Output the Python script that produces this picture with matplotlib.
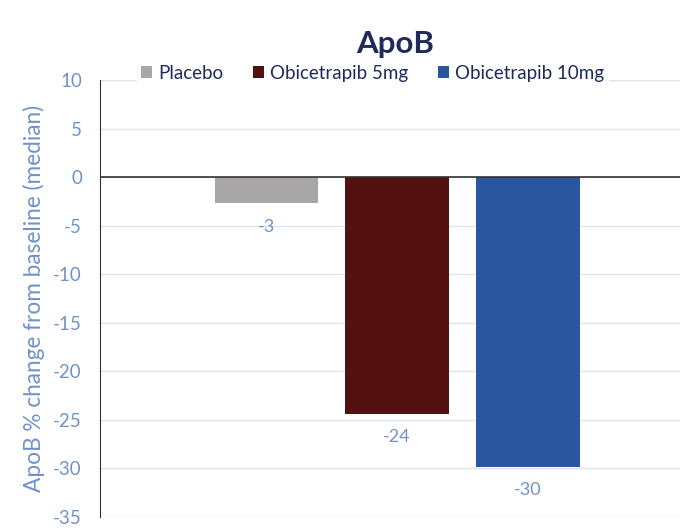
import matplotlib.pyplot as plt

plt.rcParams['font.family'] = ['Lato', 'DejaVu Sans']
plt.rcParams['axes.unicode_minus'] = False

groups = ["Placebo", "Obicetrapib 5mg", "Obicetrapib 10mg"]
values = [-2.7, -24.4, -29.8]
labels = ["-3", "-24", "-30"]
colors = ["#a9a6a7", "#541112", "#2a56a0"]
yticks = [10, 5, 0, -5, -10, -15, -20, -25, -30, -35]

blue_txt = "#6f93c9"

fig = plt.figure(figsize=(6.87, 5.30), dpi=100)
ax = fig.add_axes([0.1456, 0.0245, 0.844, 0.8245])

x = list(range(len(groups)))
bars = ax.bar(x, values, width=0.79, color=colors, label=groups, zorder=3)

for xi, v, lab in zip(x, values, labels):
    ax.annotate(lab, (xi, v), xytext=(0, -11), textcoords="offset points",
                ha="center", va="top", color=blue_txt, fontsize=13)

ax.set_xlim(-1.27, 3.16)
ax.set_ylim(-35, 10)
ax.set_yticks(yticks)
ax.set_xticks([])
ax.grid(axis="y", color="#dde4ef", linewidth=1, zorder=0)
ax.axhline(0, color="#333333", linewidth=1.2, zorder=4)
for s in ["top", "right", "bottom"]:
    ax.spines[s].set_visible(False)
ax.spines["left"].set_color("#333333")
ax.tick_params(axis="y", length=0, labelcolor=blue_txt, labelsize=13.5, pad=13)

ax.set_ylabel("ApoB % change from baseline (median)", color=blue_txt, fontsize=16.3, labelpad=6)

fig.text(0.575, 0.917, "ApoB", ha="center", va="center", fontsize=22.5,
         fontweight="bold", color="#1f2a5a")

leg = ax.legend(loc="center", bbox_to_anchor=(0.47, 1.015), ncol=3, frameon=True,
                fontsize=13.5, handlelength=0.6, handleheight=0.6, handletextpad=0.3,
                columnspacing=1.6, borderpad=0.2, framealpha=1, edgecolor="white",
                labelcolor="#1f2a5a")
leg.set_zorder(5)

fig.savefig("out.png", dpi=100)
